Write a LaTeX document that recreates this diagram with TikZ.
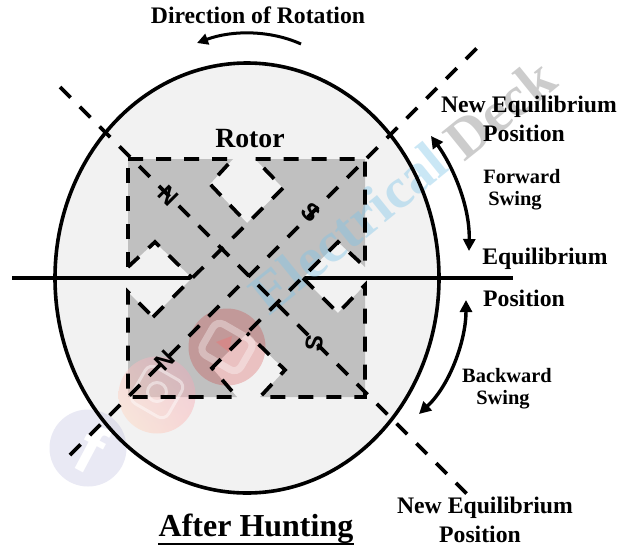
\documentclass[tikz,border=0pt]{standalone}
\usepackage{fontspec}
\setmainfont{Liberation Serif}
\newfontfamily\polefont{Liberation Sans}
\usetikzlibrary{arrows.meta,shadings,shapes.geometric}
\definecolor{rotorface}{HTML}{F2F2F2}
\definecolor{polegrey}{HTML}{C0C0C0}
\definecolor{wmblue}{HTML}{7CC4E8}
\tikzset{
  x=1pt,y=-1pt,
  label text/.style={font=\bfseries\fontsize{23.7}{25}\selectfont,inner sep=0pt,align=center,text=black},
  swing text/.style={font=\bfseries\fontsize{20.4}{22}\selectfont,inner sep=0pt,align=center,text=black},
  pole text/.style={font=\polefont\bfseries\fontsize{24}{24}\selectfont,inner sep=0pt,text=black},
  mark text/.style={font=\bfseries\fontsize{57}{57}\selectfont,opacity=.4,inner sep=0pt,rotate=39,anchor=base west},
  dash line/.style={line width=3.7pt,dash pattern=on 15pt off 13pt,black},
  swing arrow/.style={line width=3.4pt,black,arrows={Triangle[length=12pt,width=12pt]-Triangle[length=12pt,width=12pt]}},
  turn arrow/.style={line width=3pt,black,arrows={-Triangle[length=11pt,width=11pt]}},
  wm circle/.style={circle,minimum size=77pt,inner sep=0pt,draw=none},
}
\begin{document}
\begin{tikzpicture}
\useasboundingbox (0,0) rectangle (626,552);
\fill[white] (0,0) rectangle (626,552);
% stator ring face
\node[ellipse,fill=rotorface,minimum width=384pt,minimum height=430pt,inner sep=0pt] (ring) at (247,278) {};
% grey poles
\coordinate (a1) at (128,159); \coordinate (a2) at (233,159); \coordinate (a3) at (210,184);
\coordinate (a4) at (247,223); \coordinate (a5) at (283,188); \coordinate (a6) at (255,159);
\coordinate (b1) at (365,159); \coordinate (b2) at (365,267); \coordinate (b3) at (338,242);
\coordinate (b4) at (303,278); \coordinate (b5) at (338,313); \coordinate (b6) at (365,285);
\coordinate (c1) at (365,397); \coordinate (c2) at (260,397); \coordinate (c3) at (285,370);
\coordinate (c4) at (247,333); \coordinate (c5) at (212,368); \coordinate (c6) at (237,397);
\coordinate (d1) at (128,397); \coordinate (d2) at (128,292); \coordinate (d3) at (153,317);
\coordinate (d4) at (192,278); \coordinate (d5) at (155,242); \coordinate (d6) at (128,267);
% horizontal axis, interrupted by the poles
\coordinate (hl) at (12,278); \coordinate (hr) at (513,278);
\draw[line width=3.6pt] (hl) -- (hr);
\fill[polegrey] (a1)--(a2)--(a3)--(a4)--(a5)--(a6)--(b1)--(b2)--(b3)--(b4)--(b5)--(b6)--(c1)--(c2)--(c3)--(c4)--(c5)--(c6)--(d1)--(d2)--(d3)--(d4)--(d5)--(d6)--cycle;
% watermark
\node[mark text,text=wmblue] (wm1) at (269,317) {Electrical};
\node[mark text,text=gray] (wm2) at (464,163) {Deck};
\node[wm circle,fill=blue!35!gray!50!white,opacity=.25] (fb) at (88,448) {};
\node[font=\bfseries\fontsize{68}{68}\selectfont\polefont,text=white,inner sep=0pt,rotate=-28] (fbf) at (91,449) {f};
\shade[lower left=orange!25,upper right=violet!50!red!35,lower right=red!30,upper left=red!25,opacity=.45] (157,395) circle (38.5);
\node[draw=white,line width=3pt,rounded corners=8pt,minimum size=42pt,rotate=-30,opacity=.45,inner sep=0pt] (ig) at (157,392) {};
\node[circle,draw=white,line width=3pt,minimum size=19pt,opacity=.45,inner sep=0pt] (igc) at (157,392) {};
\node[wm circle,fill=red!80!black,opacity=.2] (yt) at (227,347) {};
\node[draw=white,line width=7pt,rounded corners=8pt,minimum width=44pt,minimum height=36pt,rotate=-30,opacity=.35,inner sep=0pt] (ytb) at (227,347) {};
\fill[red!60,opacity=.3] (216,342)--(232,336)--(229,352)--cycle;
% ring outline
\draw[line width=3.6pt] (ring.center) ellipse [x radius=192,y radius=215];
% dashed pole outline
\draw[dash line] (a1)--(a2)--(a3)--(a4);
\draw[dash line] (d3)--(a5)--(a6)--(b1)--(b2)--(b3)--(c5)--(c6)--(d1)--(d2)--(d3);
\draw[dash line] (b4)--(b5)--(b6)--(c1)--(c2)--(c3)--(c4);
\draw[dash line] (d6)--(a1);
\draw[dash line] (d6)--(d5)--(d4);
% rotor axes
\coordinate (p1) at (60,87); \coordinate (p2) at (467,494);
\coordinate (q1) at (70,455); \coordinate (q2) at (478,47);
\draw[dash line] (p1)--(p2);
\draw[dash line] (q1)--(q2);
% pole letters
\node[pole text,rotate=-45] (n1) at (168,196) {N};
\node[pole text,rotate=-45] (s1) at (311,212) {S};
\node[pole text,rotate=45] (n2) at (165,361) {N};
\node[pole text,rotate=80] (s2) at (314,343) {S};
% swing arrows
\coordinate (rs) at (301,44); \coordinate (re) at (197,43);
\draw[turn arrow] (rs) .. controls (270,30) and (232,30) .. (re);
\coordinate (fs) at (431,136); \coordinate (fe) at (469,251);
\draw[swing arrow] (fs) .. controls (452,165) and (470,205) .. (fe);
\coordinate (bs) at (466,300); \coordinate (be) at (419,414);
\draw[swing arrow] (bs) .. controls (466,340) and (450,385) .. (be);
% texts
\node[label text] (dir) at (258,15) {Direction of Rotation};
\node[font=\bfseries\fontsize{27.8}{29}\selectfont,inner sep=0pt] (rotor) at (250,139) {Rotor};
\node[label text] (ne1) at (529,107) {New Equilibrium};
\node[label text] (pos1) at (524,133) {Position};
\node[swing text] (fw) at (522,177) {Forward};
\node[swing text] (sw1) at (515,201) {Swing};
\node[label text] (eq) at (545,259) {Equilibrium};
\node[label text] (pos2) at (524,298) {Position};
\node[swing text] (bw) at (507,376) {Backward};
\node[swing text] (sw2) at (503,400) {Swing};
\node[label text] (ne2) at (485,508) {New Equilibrium};
\node[label text] (pos3) at (480,534) {Position};
\node[font=\bfseries\fontsize{32}{33}\selectfont,inner sep=0pt] (after) at (256,529) {After Hunting};
\coordinate (ul) at (158,544); \coordinate (ur) at (354,544);
\draw[line width=2.6pt] (ul)--(ur);
\end{tikzpicture}
\end{document}
